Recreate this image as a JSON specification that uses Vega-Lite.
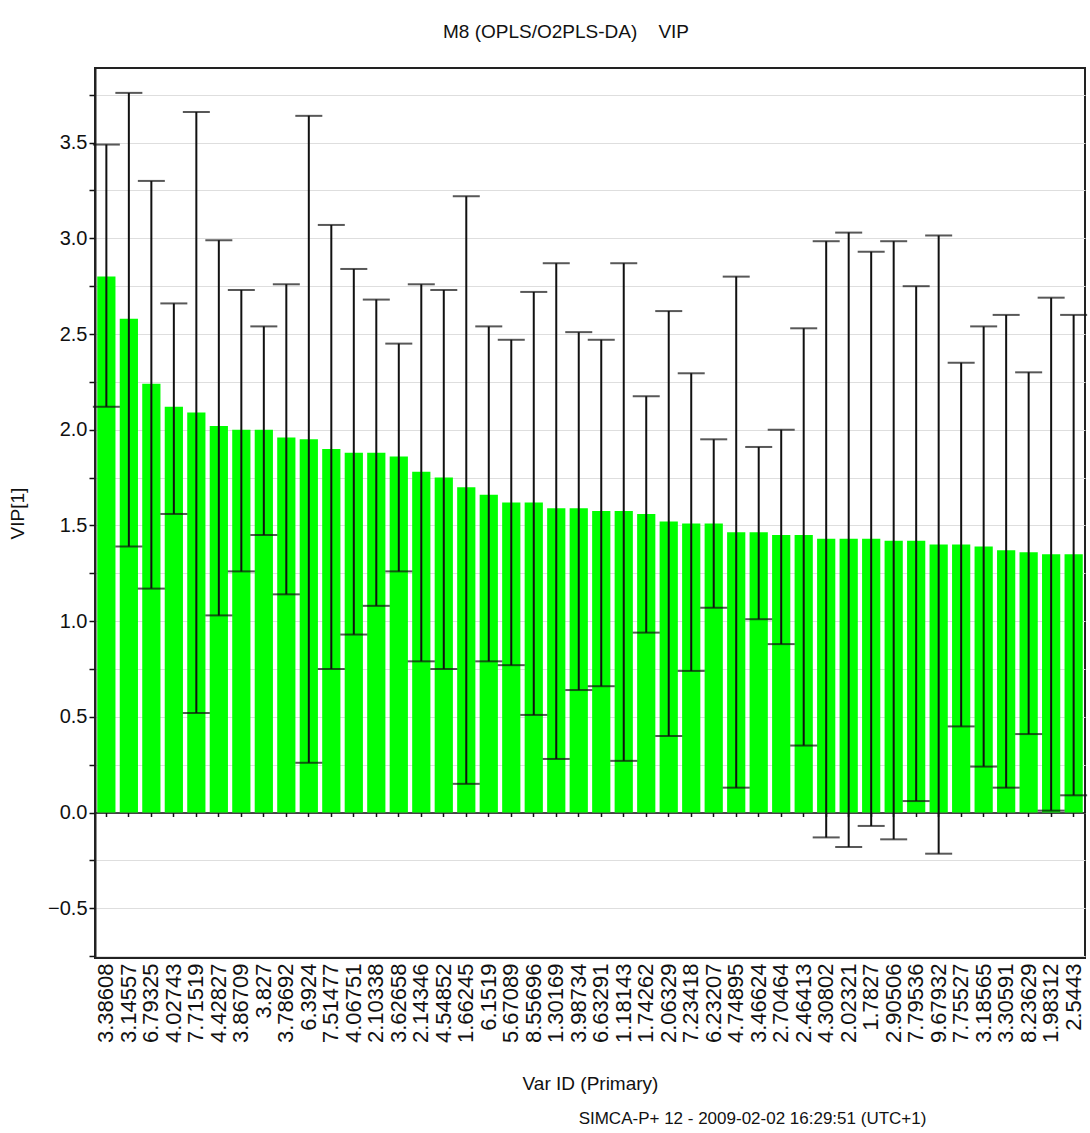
{
  "$schema": "https://vega.github.io/schema/vega-lite/v6.json",
  "autosize": {"type": "none"},
  "width": 990,
  "height": 890,
  "padding": {"left": 95, "top": 68, "right": 5, "bottom": 175},
  "background": "white",
  "title": {
    "text": "M8 (OPLS/O2PLS-DA)\u00a0\u00a0\u00a0\u00a0VIP",
    "anchor": "middle",
    "dx": -24,
    "offset": 26,
    "font": "Liberation Sans",
    "fontSize": 19,
    "fontWeight": "normal",
    "color": "#111"
  },
  "config": {
    "view": {"stroke": "#222", "strokeWidth": 2},
    "axis": {"labelFont": "Liberation Sans", "titleFont": "Liberation Sans", "labelColor": "#111", "titleColor": "#111", "titleFontWeight": "normal"}
  },
  "data": {
    "values": [
      {"id": "3.38608", "vip": 2.80, "lo": 2.12, "hi": 3.49},
      {"id": "3.14557", "vip": 2.58, "lo": 1.39, "hi": 3.76},
      {"id": "6.79325", "vip": 2.24, "lo": 1.17, "hi": 3.30},
      {"id": "4.02743", "vip": 2.12, "lo": 1.56, "hi": 2.66},
      {"id": "7.71519", "vip": 2.09, "lo": 0.52, "hi": 3.66},
      {"id": "4.42827", "vip": 2.02, "lo": 1.03, "hi": 2.99},
      {"id": "3.86709", "vip": 2.00, "lo": 1.26, "hi": 2.73},
      {"id": "3.827", "vip": 2.00, "lo": 1.45, "hi": 2.54},
      {"id": "3.78692", "vip": 1.96, "lo": 1.14, "hi": 2.76},
      {"id": "6.3924", "vip": 1.95, "lo": 0.26, "hi": 3.64},
      {"id": "7.51477", "vip": 1.90, "lo": 0.75, "hi": 3.07},
      {"id": "4.06751", "vip": 1.88, "lo": 0.93, "hi": 2.84},
      {"id": "2.10338", "vip": 1.88, "lo": 1.08, "hi": 2.68},
      {"id": "3.62658", "vip": 1.86, "lo": 1.26, "hi": 2.45},
      {"id": "2.14346", "vip": 1.78, "lo": 0.79, "hi": 2.76},
      {"id": "4.54852", "vip": 1.75, "lo": 0.75, "hi": 2.73},
      {"id": "1.66245", "vip": 1.70, "lo": 0.15, "hi": 3.22},
      {"id": "6.1519", "vip": 1.66, "lo": 0.79, "hi": 2.54},
      {"id": "5.67089", "vip": 1.62, "lo": 0.77, "hi": 2.47},
      {"id": "8.55696", "vip": 1.62, "lo": 0.51, "hi": 2.72},
      {"id": "1.30169", "vip": 1.59, "lo": 0.28, "hi": 2.87},
      {"id": "3.98734", "vip": 1.59, "lo": 0.64, "hi": 2.51},
      {"id": "6.63291", "vip": 1.575, "lo": 0.66, "hi": 2.47},
      {"id": "1.18143", "vip": 1.575, "lo": 0.27, "hi": 2.87},
      {"id": "1.74262", "vip": 1.56, "lo": 0.94, "hi": 2.175},
      {"id": "2.06329", "vip": 1.52, "lo": 0.40, "hi": 2.62},
      {"id": "7.23418", "vip": 1.51, "lo": 0.74, "hi": 2.295},
      {"id": "6.23207", "vip": 1.51, "lo": 1.07, "hi": 1.95},
      {"id": "4.74895", "vip": 1.465, "lo": 0.13, "hi": 2.80},
      {"id": "3.46624", "vip": 1.465, "lo": 1.01, "hi": 1.91},
      {"id": "2.70464", "vip": 1.45, "lo": 0.88, "hi": 2.00},
      {"id": "2.46413", "vip": 1.45, "lo": 0.35, "hi": 2.53},
      {"id": "4.30802", "vip": 1.43, "lo": -0.13, "hi": 2.985},
      {"id": "2.02321", "vip": 1.43, "lo": -0.18, "hi": 3.03},
      {"id": "1.7827", "vip": 1.43, "lo": -0.07, "hi": 2.93},
      {"id": "2.90506", "vip": 1.42, "lo": -0.14, "hi": 2.985},
      {"id": "7.79536", "vip": 1.42, "lo": 0.06, "hi": 2.75},
      {"id": "9.67932", "vip": 1.40, "lo": -0.215, "hi": 3.015},
      {"id": "7.75527", "vip": 1.40, "lo": 0.45, "hi": 2.35},
      {"id": "3.18565", "vip": 1.39, "lo": 0.24, "hi": 2.54},
      {"id": "3.30591", "vip": 1.37, "lo": 0.13, "hi": 2.60},
      {"id": "8.23629", "vip": 1.36, "lo": 0.41, "hi": 2.30},
      {"id": "1.98312", "vip": 1.35, "lo": 0.01, "hi": 2.69},
      {"id": "2.5443", "vip": 1.35, "lo": 0.09, "hi": 2.60}
    ]
  },
  "resolve": {"axis": {"x": "independent"}},
  "layer": [
    {
      "mark": {"type": "bar", "color": "#00ff00"},
      "encoding": {
        "x": {
          "field": "id", "type": "nominal", "sort": null,
          "scale": {"paddingInner": 0.19, "paddingOuter": 0.1},
          "axis": {
            "orient": "bottom",
            "title": "Var ID (Primary)",
            "titleFontSize": 19,
            "titlePadding": 32,
            "labelAngle": -90,
            "labelFontSize": 22,
            "labelPadding": 5,
            "ticks": false,
            "domain": false,
            "grid": false
          }
        },
        "y": {
          "field": "vip", "type": "quantitative", "title": "VIP[1]",
          "scale": {"domain": [-0.76, 3.89], "nice": false, "zero": false},
          "axis": {
            "values": [-0.75, -0.5, -0.25, 0, 0.25, 0.5, 0.75, 1, 1.25, 1.5, 1.75, 2, 2.25, 2.5, 2.75, 3, 3.25, 3.5, 3.75],
            "labelExpr": "datum.value % 0.5 == 0 ? format(datum.value, '.1f') : ''",
            "labelFontSize": 20,
            "labelPadding": 2,
            "tickSize": 6,
            "tickColor": "#111",
            "tickWidth": 1.5,
            "domainColor": "#222",
            "domainWidth": 2,
            "gridColor": "#dedede",
            "gridWidth": 1,
            "titleFontSize": 19,
            "titlePadding": 20
          }
        }
      }
    },
    {
      "mark": {"type": "rule", "color": "#111", "strokeWidth": 2},
      "encoding": {
        "x": {
          "field": "id", "type": "nominal", "sort": null,
          "axis": {
            "orient": "bottom",
            "offset": -145.5,
            "labels": false,
            "ticks": true,
            "tickSize": 4,
            "tickColor": "#111",
            "tickWidth": 1.5,
            "domain": true,
            "domainColor": "#111",
            "domainWidth": 1.5,
            "grid": false,
            "title": "SIMCA-P+ 12 - 2009-02-02 16:29:51 (UTC+1)",
            "titleFontSize": 17,
            "titleX": 657,
            "titleY": 311,
            "titleAlign": "center",
            "titleBaseline": "alphabetic",
            "titleAngle": 0
          }
        },
        "y": {"field": "lo", "type": "quantitative", "title": "VIP[1]", "scale": {"domain": [-0.76, 3.89], "nice": false, "zero": false}},
        "y2": {"field": "hi"}
      }
    },
    {
      "mark": {"type": "tick", "color": "#111", "size": 27, "thickness": 2},
      "encoding": {
        "x": {"field": "id", "type": "nominal", "sort": null, "axis": null},
        "y": {"field": "hi", "type": "quantitative", "title": "VIP[1]", "scale": {"domain": [-0.76, 3.89], "nice": false, "zero": false}}
      }
    },
    {
      "mark": {"type": "tick", "color": "#111", "size": 27, "thickness": 2},
      "encoding": {
        "x": {"field": "id", "type": "nominal", "sort": null, "axis": null},
        "y": {"field": "lo", "type": "quantitative", "title": "VIP[1]", "scale": {"domain": [-0.76, 3.89], "nice": false, "zero": false}}
      }
    }
  ]
}
